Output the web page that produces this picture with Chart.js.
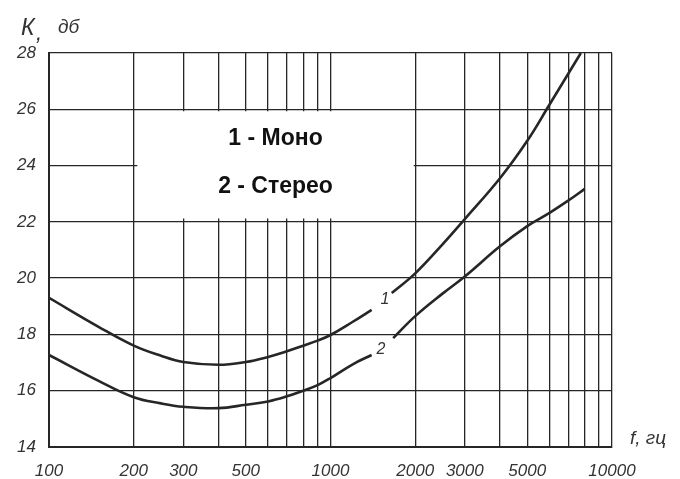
<!DOCTYPE html>
<html>
<head>
<meta charset="utf-8">
<title>K, дб</title>
<script src="https://cdn.jsdelivr.net/npm/chart.js@4.4.0/dist/chart.umd.min.js"></script>
<style>
  html, body { margin: 0; padding: 0; background: #fff; }
  #wrap { width: 680px; height: 479px; position: relative; }
</style>
</head>
<body>
<div id="wrap"><canvas id="graph"></canvas></div>
<script>
// curve 1 - mono (null = gap where the "1" sits)
const monoFreq = [100, 150, 200, 250, 300, 400, 500, 600, 700, 800, 900, 1000, 1200, 1400, 1500, 1650, 2000, 2500, 3000, 4000, 5000, 6000, 7000, 7750];
const monoK    = [19.3, 18.27, 17.6, 17.24, 17.02, 16.92, 17.02, 17.2, 17.4, 17.6, 17.78, 17.98, 18.45, 18.87, null, 19.47, 20.17, 21.2, 22.1, 23.55, 24.88, 26.17, 27.27, 28.0];

// curve 2 - stereo
const stereoFreq = [100, 150, 200, 250, 300, 400, 500, 600, 700, 800, 900, 1000, 1200, 1400, 1500, 1670, 2000, 2500, 3000, 4000, 5000, 6000, 7000, 8000];
const stereoK    = [17.27, 16.35, 15.77, 15.55, 15.43, 15.38, 15.5, 15.62, 15.8, 16.0, 16.2, 16.45, 16.94, 17.27, null, 17.87, 18.65, 19.45, 20.06, 21.13, 21.85, 22.32, 22.76, 23.17];

// vertical grid lines and the ones that get a label
const gridFreq = [100, 200, 300, 400, 500, 600, 700, 800, 900, 1000, 2000, 3000, 4000, 5000, 6000, 7000, 8000, 9000, 10000];
const xTickLabels = [100, 200, 300, 500, 1000, 2000, 3000, 5000, 10000];
const yTicks = [14, 16, 18, 20, 22, 24, 26, 28];

const legendLines = ['1 - Моно', '2 - Стерео'];

function toPoints(xs, ys) {
    return xs.map(function (x, i) { return { x: x, y: ys[i] }; });
}

const ink = '#262626';
const handFont = '"Liberation Sans", Arial, sans-serif';

const overlay = {
    id: 'overlay',
    beforeDatasetsDraw(chart) {
        const ctx = chart.ctx;
        const xs = chart.scales.x, ys = chart.scales.y;
        // white label box sitting on the grid
        const x1 = xs.getPixelForValue(206), x2 = xs.getPixelForValue(1975);
        const y1 = ys.getPixelForValue(25.93), y2 = ys.getPixelForValue(22.12);
        ctx.save();
        ctx.fillStyle = '#fff';
        ctx.fillRect(x1, y1, x2 - x1, y2 - y1);
        ctx.fillStyle = '#111';
        ctx.font = 'bold 23px ' + handFont;
        ctx.textAlign = 'center';
        ctx.textBaseline = 'middle';
        const cx = (x1 + x2) / 2;
        ctx.fillText(legendLines[0], cx, 139);
        ctx.fillText(legendLines[1], cx, 187);
        ctx.restore();
    },
    afterDraw(chart) {
        const ctx = chart.ctx;
        const xs = chart.scales.x, ys = chart.scales.y;
        ctx.save();
        ctx.fillStyle = '#333';
        ctx.textBaseline = 'alphabetic';
        ctx.font = 'italic 23px ' + handFont;
        ctx.fillText('К', 21, 35);
        ctx.font = 'italic 22px ' + handFont;
        ctx.fillText(',', 36, 40);
        ctx.font = 'italic 19px ' + handFont;
        ctx.fillText('дб', 58, 33);
        ctx.fillText('f, гц', 630, 444);
        // curve numbers in the gaps
        ctx.font = 'italic 16px ' + handFont;
        ctx.textAlign = 'center';
        ctx.textBaseline = 'middle';
        ctx.fillText('1', xs.getPixelForValue(1560), ys.getPixelForValue(19.25));
        ctx.fillText('2', xs.getPixelForValue(1510), ys.getPixelForValue(17.45));
        ctx.restore();
    }
};

window.onload = function () {
    const cell = document.getElementById('graph');
    new Chart(cell, {
        type: 'line',
        data: {
            datasets: [{
                    label: 'Моно',
                    data: toPoints(monoFreq, monoK),
                    borderColor: ink,
                    borderWidth: 2.6,
                    pointRadius: 0,
                    tension: 0.4,
                    spanGaps: false,
                    fill: false
                }, {
                    label: 'Стерео',
                    data: toPoints(stereoFreq, stereoK),
                    borderColor: ink,
                    borderWidth: 2.6,
                    pointRadius: 0,
                    tension: 0.4,
                    spanGaps: false,
                    fill: false
                }]
        },
        plugins: [overlay],
        options: {
            responsive: true,
            maintainAspectRatio: false,
            animation: false,
            layout: {
                padding: { top: 53, right: 68, left: 0, bottom: 0 }
            },
            scales: {
                x: {
                    type: 'logarithmic',
                    min: 100,
                    max: 10000,
                    afterBuildTicks: function (scale) {
                        scale.ticks = gridFreq.map(function (v) { return { value: v }; });
                    },
                    afterFit: function (scale) { scale.height = 32; },
                    grid: { color: ink, lineWidth: 1.3, drawTicks: false },
                    border: { color: ink, width: 2 },
                    ticks: {
                        autoSkip: false,
                        maxRotation: 0,
                        padding: 14,
                        color: '#333',
                        font: { family: handFont, size: 17, style: 'italic' },
                        callback: function (value) {
                            return xTickLabels.includes(value) ? String(value) : '';
                        }
                    }
                },
                y: {
                    min: 14,
                    max: 28,
                    afterBuildTicks: function (scale) {
                        scale.ticks = yTicks.map(function (v) { return { value: v }; });
                    },
                    afterFit: function (scale) { scale.width = 49; },
                    grid: { color: ink, lineWidth: 1.3, drawTicks: false },
                    border: { color: ink, width: 2 },
                    ticks: {
                        padding: 13,
                        color: '#333',
                        font: { family: handFont, size: 17, style: 'italic' }
                    }
                }
            },
            plugins: {
                legend: { display: false },
                tooltip: { enabled: false }
            }
        }
    });
};
</script>
</body>
</html>
